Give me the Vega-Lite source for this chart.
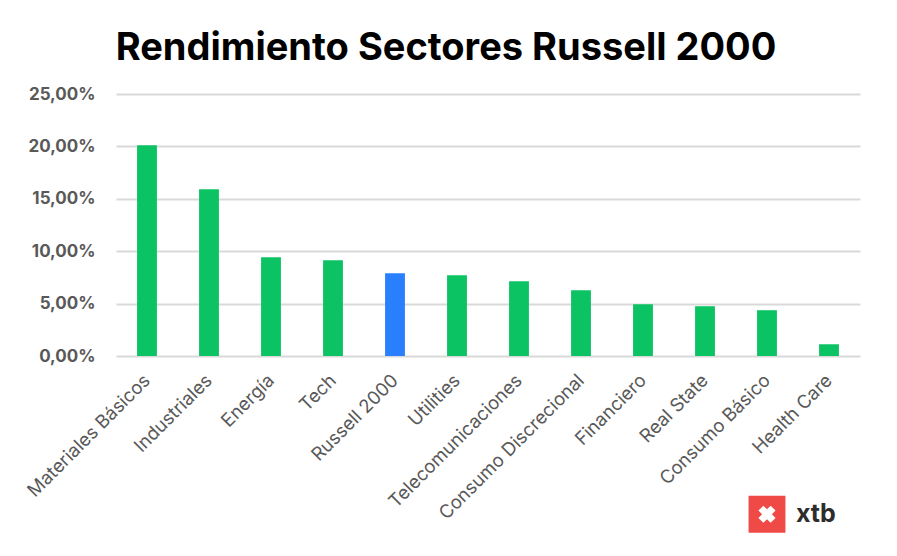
{
  "$schema": "https://vega.github.io/schema/vega-lite/v6.json",
  "width": 744,
  "height": 262,
  "autosize": {"type": "none"},
  "padding": {"left": 116, "top": 94, "right": 37, "bottom": 200},
  "background": "white",
  "title": {
    "text": "Rendimiento Sectores Russell 2000",
    "font": "Inter",
    "fontSize": 38,
    "fontWeight": "bold",
    "color": "#000000",
    "anchor": "middle",
    "frame": "group",
    "baseline": "bottom",
    "dx": -42,
    "offset": -21
  },
  "data": {
    "values": [
      {"sector": "Materiales Básicos", "rend": 20.12, "tipo": "sector"},
      {"sector": "Industriales", "rend": 15.92, "tipo": "sector"},
      {"sector": "Energía", "rend": 9.43, "tipo": "sector"},
      {"sector": "Tech", "rend": 9.14, "tipo": "sector"},
      {"sector": "Russell 2000", "rend": 7.90, "tipo": "indice"},
      {"sector": "Utilities", "rend": 7.71, "tipo": "sector"},
      {"sector": "Telecomunicaciones", "rend": 7.13, "tipo": "sector"},
      {"sector": "Consumo Discrecional", "rend": 6.27, "tipo": "sector"},
      {"sector": "Financiero", "rend": 4.94, "tipo": "sector"},
      {"sector": "Real State", "rend": 4.75, "tipo": "sector"},
      {"sector": "Consumo Básico", "rend": 4.37, "tipo": "sector"},
      {"sector": "Health Care", "rend": 1.12, "tipo": "sector"}
    ]
  },
  "encoding": {
    "x": {
      "field": "sector",
      "type": "nominal",
      "sort": null,
      "scale": {"paddingInner": 0.68, "paddingOuter": 0.34},
      "axis": {
        "title": null,
        "labelAngle": -45,
        "labelAlign": "right",
        "labelBaseline": "middle",
        "labelFont": "Inter",
        "labelFontSize": 18.5,
        "labelColor": "#595959",
        "labelPadding": 21,
        "labelLimit": 400,
        "labelOverlap": false,
        "ticks": false,
        "domain": false,
        "grid": false
      }
    }
  },
  "layer": [
    {
      "mark": {"type": "bar"},
      "encoding": {
        "y": {
          "field": "rend",
          "type": "quantitative",
          "scale": {"domain": [0, 25], "nice": false},
          "axis": {
            "title": null,
            "values": [0, 5, 10, 15, 20, 25],
            "labelExpr": "replace(format(datum.value, '.2f'), '.', ',') + '%'",
            "labelFont": "Inter",
            "labelFontSize": 17,
            "labelFontWeight": "bold",
            "labelColor": "#595959",
            "labelPadding": 21,
            "ticks": false,
            "domain": false,
            "gridColor": "#d9d9d9",
            "gridWidth": 2
          }
        },
        "color": {
          "field": "tipo",
          "type": "nominal",
          "scale": {"domain": ["sector", "indice"], "range": ["#0bc363", "#2a7fff"]},
          "legend": null
        }
      }
    },
    {
      "data": {"values": [{"marca": "xtb"}]},
      "mark": {"type": "square", "filled": true, "color": "#f04a46", "size": 1360, "opacity": 1},
      "encoding": {
        "x": {"datum": "Consumo Básico"},
        "y": {"datum": -15.1}
      }
    },
    {
      "data": {"values": [{"marca": "xtb"}]},
      "mark": {"type": "point", "shape": "cross", "filled": true, "color": "#ffffff", "size": 300, "angle": 45, "opacity": 1},
      "encoding": {
        "x": {"datum": "Consumo Básico"},
        "y": {"datum": -15.1}
      }
    },
    {
      "data": {"values": [{"marca": "xtb"}]},
      "mark": {"type": "text", "align": "left", "baseline": "alphabetic", "font": "Inter", "fontSize": 25, "fontWeight": "bold", "color": "#2d2d2d", "dx": -33},
      "encoding": {
        "x": {"datum": "Health Care"},
        "y": {"datum": -15.85},
        "text": {"field": "marca"}
      }
    }
  ],
  "config": {
    "view": {"stroke": null}
  }
}
